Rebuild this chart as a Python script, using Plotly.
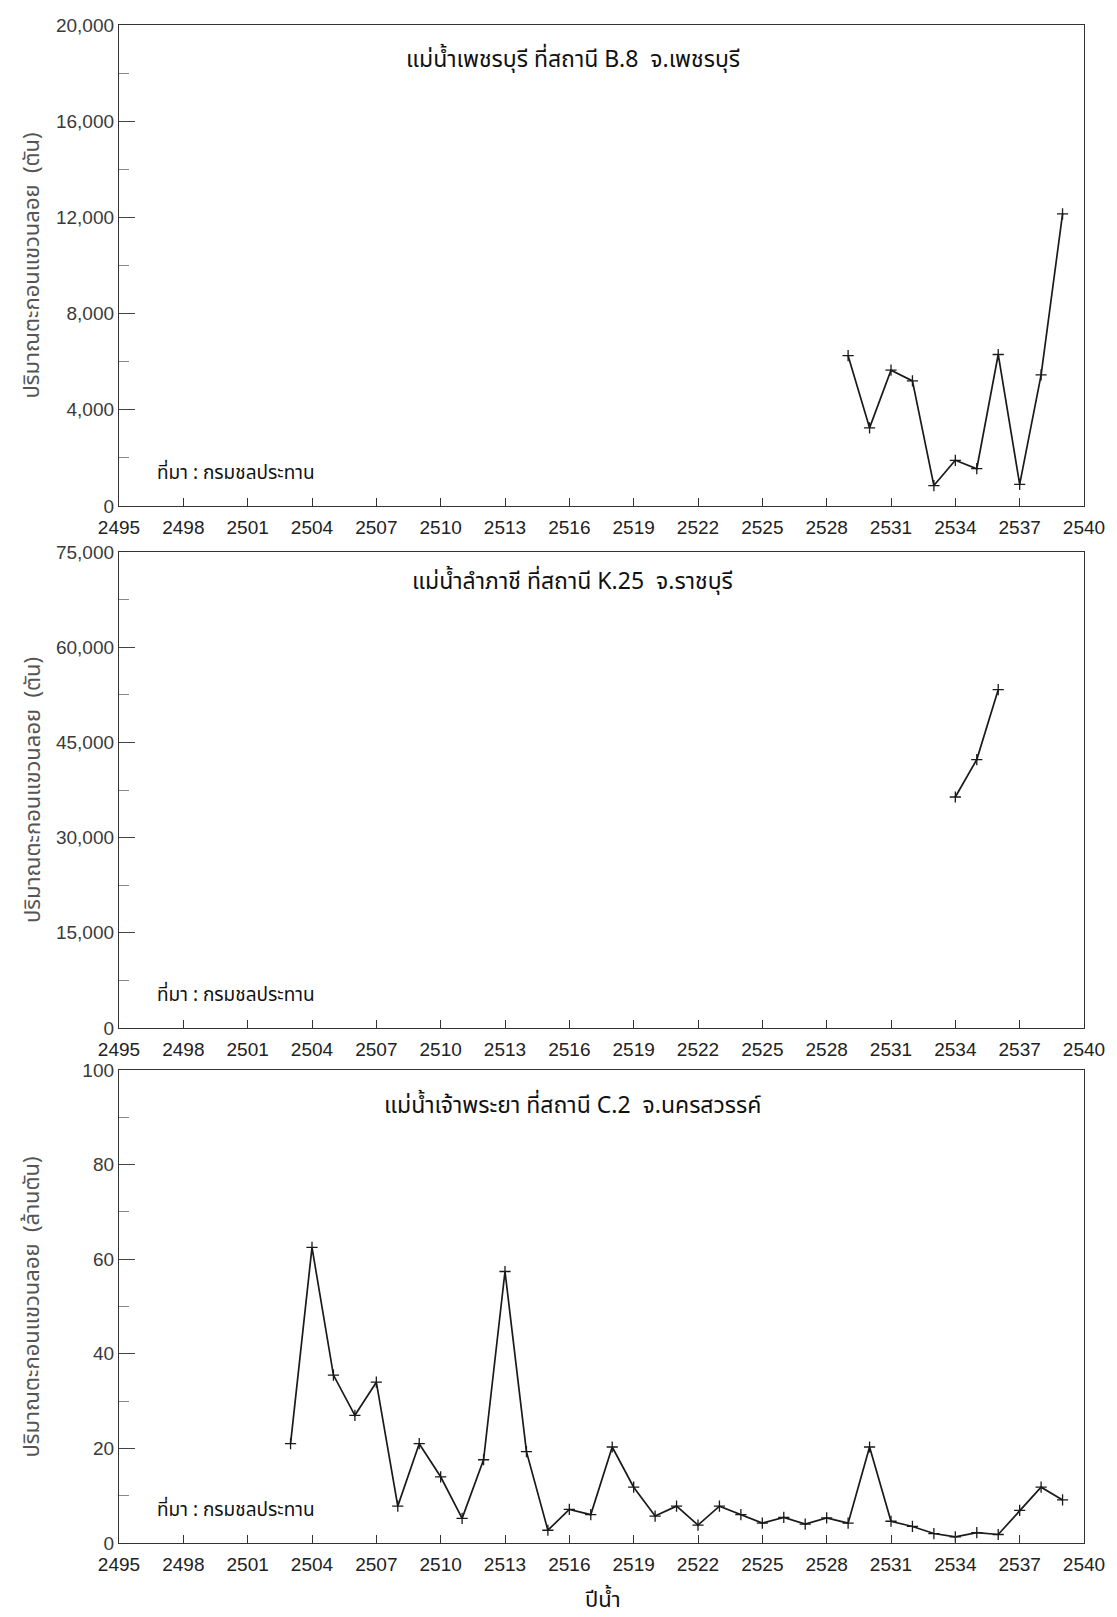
import plotly.graph_objects as go

# ---- data ----
years_b8 = [2529, 2530, 2531, 2532, 2533, 2534, 2535, 2536, 2537, 2538, 2539]
sed_b8 = [6250, 3250, 5650, 5200, 850, 1900, 1550, 6300, 900, 5450, 12150]

years_k25 = [2534, 2535, 2536]
sed_k25 = [36400, 42300, 53300]

years_c2 = list(range(2503, 2540))
sed_c2 = [21.0, 62.5, 35.5, 27.0, 34.0, 7.8, 21.0, 14.0, 5.2, 17.6, 57.4, 19.3, 2.7,
          7.1, 6.0, 20.3, 11.8, 5.7, 7.8, 3.8, 7.8, 6.0, 4.2, 5.4, 4.0, 5.3, 4.2,
          20.3, 4.6, 3.5, 2.0, 1.3, 2.2, 1.8, 6.9, 11.8, 9.1]

titles = ["แม่น้ำเพชรบุรี ที่สถานี B.8  จ.เพชรบุรี",
          "แม่น้ำลำภาชี ที่สถานี K.25  จ.ราชบุรี",
          "แม่น้ำเจ้าพระยา ที่สถานี C.2  จ.นครสวรรค์"]
source_text = "ที่มา : กรมชลประทาน"
ytitles = ["ปริมาณตะกอนแขวนลอย  (ตัน)", "ปริมาณตะกอนแขวนลอย  (ตัน)", "ปริมาณตะกอนแขวนลอย  (ล้านตัน)"]
xtitle = "ปีน้ำ"
x_ticks = list(range(2495, 2541, 3))
y_ticks = [[0, 4000, 8000, 12000, 16000, 20000],
           [0, 15000, 30000, 45000, 60000, 75000],
           [0, 20, 40, 60, 80, 100]]
y_minor = [2000, 7500, 10]
y_ranges = [[0, 20000], [0, 75000], [0, 100]]

# ---- layout geometry (pixels) ----
W, H = 1117, 1617
L, R, T, B = 119, 1095, 25, 1543
panels_px = [(25, 506), (552, 1028), (1070, 1543)]
title_offsets = [35, 30, 36]

def py(y):
    return (B - y) / (B - T)

def px(x):
    return (x - L) / (R - L)

THAI = "Noto Sans Thai, Noto Sans Thai UI, Noto Sans, DejaVu Sans, sans-serif"
NUM = "Liberation Sans, Arial, sans-serif"

fig = go.Figure()
series = [(years_b8, sed_b8), (years_k25, sed_k25), (years_c2, sed_c2)]
for i, (xs, ys) in enumerate(series):
    fig.add_trace(go.Scatter(
        x=xs, y=ys, mode="lines+markers",
        line=dict(color="#1a1a1a", width=1.7),
        marker=dict(symbol="cross-thin", size=8, line=dict(color="#1a1a1a", width=1.3)),
        xaxis="x" if i == 0 else f"x{i+1}", yaxis="y" if i == 0 else f"y{i+1}",
        showlegend=False, hoverinfo="x+y"))

layout = dict(width=W, height=H, paper_bgcolor="white", plot_bgcolor="white",
              margin=dict(l=L, r=W - R, t=T, b=H - B), showlegend=False)
annotations = []
for i, (top, bot) in enumerate(panels_px):
    sfx = "" if i == 0 else str(i + 1)
    dom = [py(bot), py(top)]
    layout["xaxis" + sfx] = dict(
        domain=[0, 1], anchor="y" + sfx, range=[2495, 2540],
        tickvals=x_ticks, ticktext=[str(v) for v in x_ticks],
        ticks="inside", ticklen=8, tickwidth=1, tickcolor="#333",
        showline=True, linecolor="#333", linewidth=1.3, mirror=True,
        showgrid=False, zeroline=False, ticklabelstandoff=4,
        tickfont=dict(family=NUM, size=19, color="#222"))
    layout["yaxis" + sfx] = dict(
        domain=dom, anchor="x" + sfx, range=y_ranges[i],
        tickvals=y_ticks[i], tickformat=",d",
        ticks="inside", ticklen=16, tickwidth=1, tickcolor="#444",
        minor=dict(dtick=y_minor[i], tick0=0, ticks="inside", ticklen=10, tickcolor="#888", tickwidth=1),
        showline=True, linecolor="#333", linewidth=1.3, mirror=True,
        showgrid=False, zeroline=False,
        tickfont=dict(family=NUM, size=19, color="#3a3a3a"))
    annotations.append(dict(text=titles[i], x=px(578), y=py(top + title_offsets[i]), xref="paper", yref="paper",
                            xanchor="center", yanchor="middle", showarrow=False,
                            font=dict(family=THAI, size=23, color="#111")))
    annotations.append(dict(text=source_text, x=px(155), y=py(bot - 33), xref="paper", yref="paper",
                            xanchor="left", yanchor="middle", showarrow=False,
                            font=dict(family=THAI, size=19, color="#111")))
    annotations.append(dict(text=ytitles[i], x=px(32), y=py((top + bot) / 2), xref="paper", yref="paper",
                            xanchor="center", yanchor="middle", showarrow=False, textangle=-90,
                            font=dict(family=THAI, size=22, color="#555")))
annotations.append(dict(text=xtitle, x=px(609), y=py(1600), xref="paper", yref="paper",
                        xanchor="center", yanchor="middle", showarrow=False,
                        font=dict(family=THAI, size=22, color="#111")))
layout["annotations"] = annotations
fig.update_layout(**layout)
fig.write_html("out.html")
